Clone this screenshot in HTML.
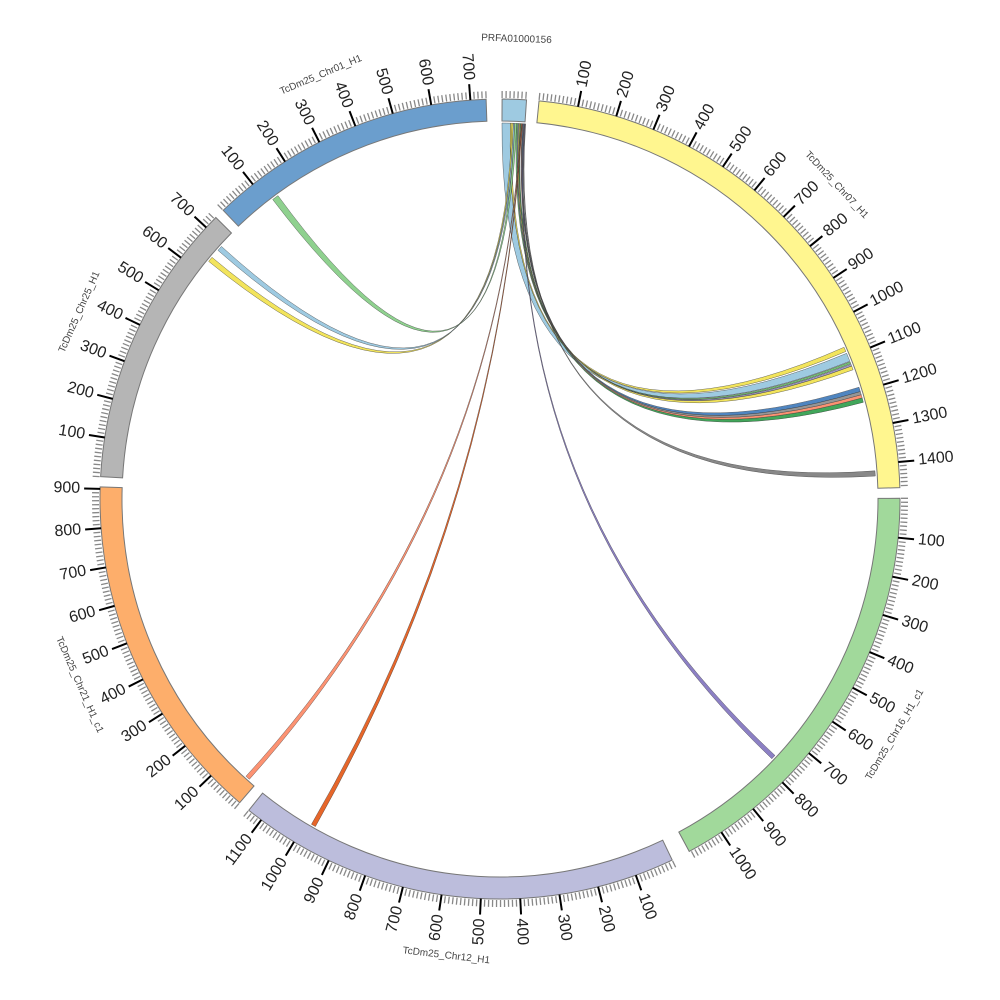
<!DOCTYPE html>
<html><head><meta charset="utf-8"><style>html,body{margin:0;padding:0;background:#fff}svg{display:block}</style></head>
<body>
<svg id="s" width="1000" height="1000" viewBox="0 0 1000 1000" xmlns="http://www.w3.org/2000/svg" font-family="Liberation Sans, DejaVu Sans, sans-serif"></svg>
<script>
var CX=500,CY=499,RI=378,RO=400,SC=0.0565;
var chrs=[
 {n:"PRFA01000156",s:0.3,l:62,c:"#9ecae1",ticks:false},
 {n:"TcDm25_Chr07_H1",s:5.6,l:1465,c:"#fff68f"},
 {n:"TcDm25_Chr16_H1_c1",s:89.9,l:1095,c:"#a1d99b"},
 {n:"TcDm25_Chr12_H1",s:154.5,l:1140,c:"#bcbddc"},
 {n:"TcDm25_Chr21_H1_c1",s:220.6,l:905,c:"#fdae6b"},
 {n:"TcDm25_Chr25_H1",s:273.2,l:735,c:"#b5b5b5"},
 {n:"TcDm25_Chr01_H1",s:316.2,l:740,c:"#6b9ecd"}
];
function P(a,r){var t=a*Math.PI/180;return [CX+r*Math.sin(t),CY-r*Math.cos(t)];}
function f(p){return p[0].toFixed(2)+","+p[1].toFixed(2);}
var o="";
chrs.forEach(function(c){
 var e=c.s+c.l*SC,lg=(e-c.s)>180?1:0;
 o+='<path d="M'+f(P(c.s,RI))+' L'+f(P(c.s,RO))+' A'+RO+','+RO+' 0 '+lg+' 1 '+f(P(e,RO))+' L'+f(P(e,RI))+' A'+RI+','+RI+' 0 '+lg+' 0 '+f(P(c.s,RI))+' Z" fill="'+c.c+'" stroke="#777" stroke-width="1"/>';
 for(var u=0;u<=c.l;u+=10){
  var a=c.s+u*SC;
  if(u%100==0&&u>0&&c.ticks!==false){
   o+='<line x1="'+P(a,RO)[0].toFixed(2)+'" y1="'+P(a,RO)[1].toFixed(2)+'" x2="'+P(a,416)[0].toFixed(2)+'" y2="'+P(a,416)[1].toFixed(2)+'" stroke="#000" stroke-width="2"/>';
   var lp=P(a,420),rot,anc;
   if(a<180){rot=a-90;anc="start";}else{rot=a+90;anc="end";}
   o+='<text x="'+lp[0].toFixed(2)+'" y="'+lp[1].toFixed(2)+'" transform="rotate('+rot.toFixed(2)+' '+lp[0].toFixed(2)+' '+lp[1].toFixed(2)+')" text-anchor="'+anc+'" dominant-baseline="central" font-size="16" fill="#222">'+u+'</text>';
  }else{
   o+='<line x1="'+P(a,RO+1)[0].toFixed(2)+'" y1="'+P(a,RO+1)[1].toFixed(2)+'" x2="'+P(a,408)[0].toFixed(2)+'" y2="'+P(a,408)[1].toFixed(2)+'" stroke="#888" stroke-width="1.3"/>';
  }
 }
 var m=(c.s+e)/2,np=P(m,460),nr=m<90?m:(m<270?m-180:m-360);
 o+='<text x="'+np[0].toFixed(2)+'" y="'+np[1].toFixed(2)+'" transform="rotate('+nr.toFixed(2)+' '+np[0].toFixed(2)+' '+np[1].toFixed(2)+')" text-anchor="middle" dominant-baseline="central" font-size="10" fill="#444">'+c.n+'</text>';
});
var links=[
 [0.3,1.6,67.2,68.5,"#9ecae1"],
 [1.6,1.85,66.2,66.9,"#f2e45c"],
 [1.85,2.05,309.2,310.0,"#f2e45c"],
 [2.05,2.25,311.4,312.2,"#9ecae1"],
 [2.25,2.55,322.8,323.8,"#8fd18f"],
 [2.55,2.75,68.6,68.9,"#74c476"],
 [2.75,2.9,69.0,69.3,"#9e9ac8"],
 [2.9,3.05,69.3,69.9,"#f2e45c"],
 [3.05,3.2,74.4,75.1,"#41a65a"],
 [3.2,3.3,221.8,222.5,"#fc9272"],
 [3.3,3.4,209.4,210.1,"#e6662a"],
 [3.4,3.5,73.9,74.4,"#fc9272"],
 [3.5,3.62,72.7,73.4,"#4f85c0"],
 [3.62,3.72,73.4,73.9,"#969696"],
 [3.72,3.82,133.0,133.7,"#8c80c4"],
 [3.82,3.92,85.7,86.5,"#888888"]
];
var R=RI-2,C=[CX,CY];
links.forEach(function(k){
 o+='<path d="M'+f(P(k[0],R))+' A'+R+','+R+' 0 0 1 '+f(P(k[1],R))+' Q'+f(C)+' '+f(P(k[2],R))+' A'+R+','+R+' 0 0 1 '+f(P(k[3],R))+' Q'+f(C)+' '+f(P(k[0],R))+' Z" fill="'+k[4]+'" stroke="#333" stroke-width="0.45" stroke-opacity="0.8"/>';
});
document.getElementById("s").innerHTML=o;
</script>
</body></html>
